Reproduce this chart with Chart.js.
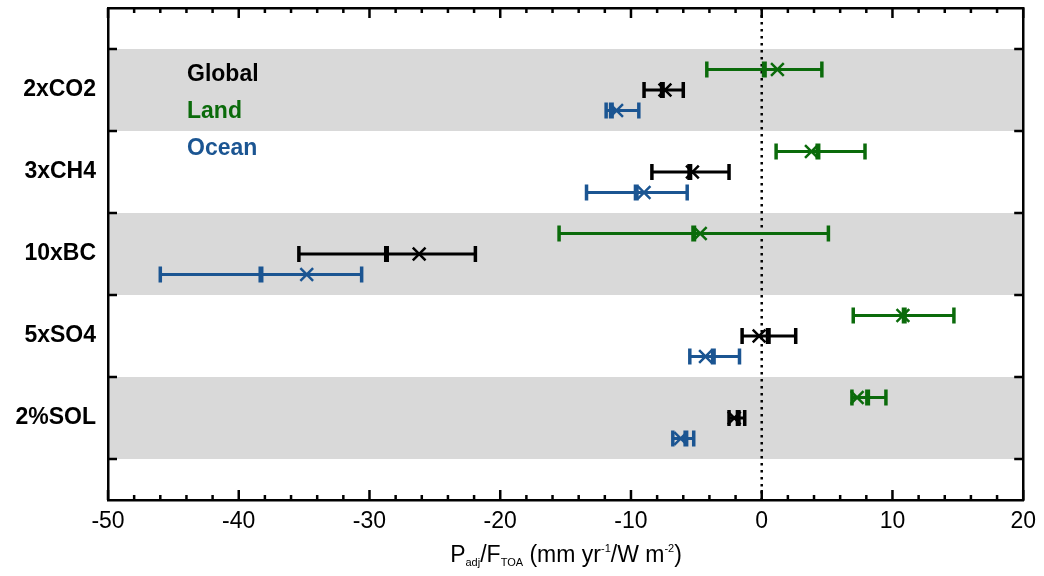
<!DOCTYPE html>
<html>
<head>
<meta charset="utf-8">
<script src="https://cdn.jsdelivr.net/npm/chart.js@4.4.0/dist/chart.umd.min.js"></script>
<style>
  body { margin: 0; background: #fff; }
  #wrap { position: relative; width: 1044px; height: 576px; }
  #xtitle {
    position: absolute; left: 108px; width: 916px; top: 541px;
    text-align: center; font: 23px "Liberation Sans", Arial, sans-serif; color: #000;
  }
  #xtitle sub { font-size: 11px; vertical-align: -4px; }
  #xtitle sup { font-size: 11px; vertical-align: 10px; }
</style>
</head>
<body>
<div id="wrap">
  <canvas id="chart" width="1044" height="576"></canvas>
  <div id="xtitle">P<sub>adj</sub>/F<sub>TOA</sub> (mm yr<sup>-1</sup>/W m<sup>-2</sup>)</div>
</div>
<script>
// data
const categories = ['2xCO2', '3xCH4', '10xBC', '5xSO4', '2%SOL'];
const regions = ['Global', 'Land', 'Ocean'];

const globalLow    = [-9.0, -8.4, -35.4, -1.5, -2.5];
const globalHigh   = [-6.0, -2.5, -21.9,  2.6, -1.3];
const globalMedian = [-7.6, -5.5, -28.7,  0.5, -1.8];
const globalMean   = [-7.4, -5.3, -26.2, -0.2, -2.1];

const landLow    = [-4.2, 1.1, -15.5,  7.0, 6.9];
const landHigh   = [ 4.6, 7.9,   5.1, 14.7, 9.5];
const landMedian = [ 0.2, 4.3,  -5.2, 10.9, 8.1];
const landMean   = [ 1.2, 3.8,  -4.7, 10.8, 7.3];

const oceanLow    = [-11.9, -13.4, -46.0, -5.5, -6.8];
const oceanHigh   = [ -9.4,  -5.7, -30.6, -1.7, -5.2];
const oceanMedian = [-11.5,  -9.6, -38.3, -3.7, -5.8];
const oceanMean   = [-11.1,  -9.0, -34.8, -4.3, -6.2];

const xTickValues = [-50, -40, -30, -20, -10, 0, 10, 20];
const refLine = [0];

// styling
const colors = { Global: '#000000', Land: '#0b6b0b', Ocean: '#1b5592' };
const offsets = { Global: 0, Land: -0.25, Ocean: 0.25 };
const FONT = '"Liberation Sans", Arial, sans-serif';

const series = {
  Global: { low: globalLow, high: globalHigh, median: globalMedian, mean: globalMean },
  Land:   { low: landLow,   high: landHigh,   median: landMedian,   mean: landMean },
  Ocean:  { low: oceanLow,  high: oceanHigh,  median: oceanMedian,  mean: oceanMean }
};

const datasets = [];

// dotted zero line, drawn under everything
datasets.push({
  data: [{ x: refLine[0], y: 0 }, { x: refLine[0], y: 6 }],
  showLine: true, borderColor: '#000', borderWidth: 2.5, borderDash: [2.5, 4.5],
  pointRadius: 0, order: 10
});

regions.forEach(r => {
  const s = series[r];
  const c = colors[r];
  categories.forEach((cat, i) => {
    const y = i + 1 + offsets[r];
    // error bar with caps
    datasets.push({
      data: [{ x: s.low[i], y: y }, { x: s.high[i], y: y }],
      showLine: true, borderColor: c, borderWidth: 3,
      pointStyle: 'line', pointRotation: 90, pointRadius: 8,
      pointBorderWidth: 3.5, pointBorderColor: c, order: 3
    });
  });
  // medians
  datasets.push({
    data: categories.map((cat, i) => ({ x: s.median[i], y: i + 1 + offsets[r] })),
    showLine: false, pointStyle: 'line', pointRotation: 90, pointRadius: 8,
    pointBorderWidth: 5, pointBorderColor: c, borderColor: c, order: 2
  });
  // means
  datasets.push({
    data: categories.map((cat, i) => ({ x: s.mean[i], y: i + 1 + offsets[r] })),
    showLine: false, pointStyle: 'crossRot', pointRadius: 9,
    pointBorderWidth: 2.5, pointBorderColor: c, borderColor: c, order: 1
  });
});

const frame = {
  id: 'frame',
  beforeDraw(chart) {
    const { ctx, chartArea: a, scales } = chart;
    ctx.save();
    ctx.fillStyle = '#d9d9d9';
    [0, 2, 4].forEach(i => {
      const t = scales.y.getPixelForValue(i + 0.5);
      const b = scales.y.getPixelForValue(i + 1.5);
      ctx.fillRect(a.left, t, a.right - a.left, b - t);
    });
    ctx.restore();
  },
  afterDraw(chart) {
    const { ctx, chartArea: a, scales } = chart;
    ctx.save();
    ctx.strokeStyle = '#000';
    ctx.lineWidth = 2.5;
    ctx.beginPath();
    for (let v = -50; v <= 20; v += 2) {
      const px = scales.x.getPixelForValue(v);
      const len = v % 10 === 0 ? 10 : 5;
      ctx.moveTo(px, a.bottom); ctx.lineTo(px, a.bottom - len);
      ctx.moveTo(px, a.top); ctx.lineTo(px, a.top + len);
    }
    for (let i = 0; i <= 5; i++) {
      const py = scales.y.getPixelForValue(i + 0.5);
      ctx.moveTo(a.left, py); ctx.lineTo(a.left + 9, py);
      ctx.moveTo(a.right, py); ctx.lineTo(a.right - 9, py);
    }
    ctx.stroke();

    // legend inside the plot
    ctx.font = 'bold 23px ' + FONT;
    ctx.textBaseline = 'middle';
    ctx.textAlign = 'left';
    regions.forEach((r, k) => {
      ctx.fillStyle = colors[r];
      ctx.fillText(r, a.left + 79, a.top + 67 + k * 37);
    });
    ctx.restore();
  }
};

const noPad = s => { s.paddingTop = 0; s.paddingBottom = 0; };

new Chart(document.getElementById('chart'), {
  type: 'scatter',
  data: { datasets },
  plugins: [frame],
  options: {
    responsive: false,
    animation: false,
    layout: { autoPadding: false, padding: { left: 0, right: 20, top: 8, bottom: 0 } },
    plugins: { legend: { display: false }, tooltip: { enabled: false } },
    scales: {
      x: {
        type: 'linear', position: 'bottom', min: -50, max: 20,
        afterBuildTicks: s => { s.ticks = xTickValues.map(v => ({ value: v })); },
        afterFit: s => { s.height = 76; },
        grid: { display: false, drawTicks: false },
        border: { display: true, color: '#000', width: 2.5 },
        ticks: { color: '#000', font: { family: FONT, size: 23 }, padding: 8, maxRotation: 0 }
      },
      x2: {
        type: 'linear', position: 'top', min: -50, max: 20,
        afterFit: s => { s.height = 0; },
        grid: { display: false, drawTicks: false },
        border: { display: true, color: '#000', width: 2.5 },
        ticks: { display: false }
      },
      y: {
        type: 'linear', position: 'left', min: 0, max: 6, reverse: true,
        afterBuildTicks: s => { s.ticks = categories.map((c, i) => ({ value: i + 1 })); },
        afterFit: s => { s.width = 108; noPad(s); },
        grid: { display: false, drawTicks: false },
        border: { display: true, color: '#000', width: 2.5 },
        ticks: {
          color: '#000', font: { family: FONT, size: 23, weight: 'bold' }, padding: 12,
          callback: v => categories[v - 1]
        }
      },
      y2: {
        type: 'linear', position: 'right', min: 0, max: 6, reverse: true,
        afterFit: s => { s.width = 0; noPad(s); },
        grid: { display: false, drawTicks: false },
        border: { display: true, color: '#000', width: 2.5 },
        ticks: { display: false }
      }
    }
  }
});
</script>
</body>
</html>
